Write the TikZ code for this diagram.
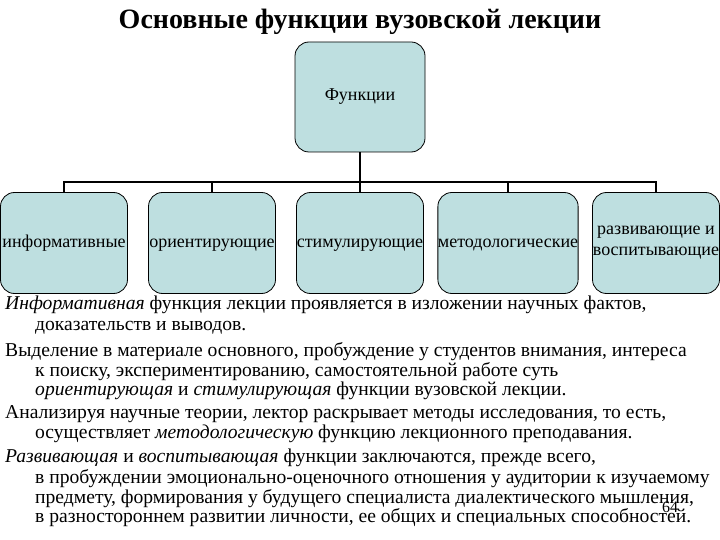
\documentclass[tikz,border=0pt]{standalone}
\usepackage{fontspec}
\setmainfont{Liberation Serif}
\begin{document}
\begin{tikzpicture}[x=1pt,y=-1pt,
 fbox/.style={draw,thick,fill=boxc,rounded corners=14pt,minimum width=127pt,minimum height=101pt,inner sep=0pt,font=\fontsize{18}{21}\selectfont,align=center},
 conn/.style={line width=2pt},
 ln/.style={anchor=base west,inner sep=0pt,font=\fontsize{19.6}{22}\selectfont}]
\definecolor{boxc}{HTML}{BEDFE0}
\useasboundingbox (0,0) rectangle (720,540);
\node[font=\bfseries\fontsize{28}{30}\selectfont] (t) at (360,22) {Основные функции вузовской лекции};
\node[fbox,minimum width=130pt,minimum height=110pt] (top) at (360,97) {Функции};
\node[fbox] (b1) at (64,243) {\strut информативные};
\node[fbox] (b2) at (212,243) {\strut ориентирующие};
\node[fbox] (b3) at (360,243) {\strut стимулирующие};
\node[fbox] (b4) at (508,243) {\strut методологические};
\node[fbox] (b5) at (656,243) {развивающие и\\воспитывающие};
\coordinate (h) at (360,182);
\draw[conn] (top.south) -- (h);
\draw[conn] (b1.north) |- (h) -| (b5.north);
\draw[conn] (b2.north) -- (b2.north |- h);
\draw[conn] (b3.north) -- (h);
\draw[conn] (b4.north) -- (b4.north |- h);
\node[ln] (l1) at (5,309) {\textit{Информативная} функция лекции проявляется в изложении научных фактов,};
\node[ln] (l2) at (35,330) {доказательств и выводов.};
\node[ln] (l3) at (5,356) {Выделение в материале основного, пробуждение у студентов внимания, интереса};
\node[ln] (l4) at (35,376) {к поиску, экспериментированию, самостоятельной работе суть};
\node[ln] (l5) at (35,395) {\textit{ориентирующая} и \textit{стимулирующая} функции вузовской лекции.};
\node[ln] (l6) at (5,418) {Анализируя научные теории, лектор раскрывает методы исследования, то есть,};
\node[ln] (l7) at (35,438) {осуществляет \textit{методологическую} функцию лекционного преподавания.};
\node[ln] (l8) at (5,462) {\textit{Развивающая} и \textit{воспитывающая} функции заключаются, прежде всего,};
\node[ln] (l9) at (35,483) {в пробуждении эмоционально-оценочного отношения у аудитории к изучаемому};
\node[ln] (l10) at (35,503) {предмету, формирования у будущего специалиста диалектического мышления,};
\node[ln] (l11) at (35,522) {в разностороннем развитии личности, ее общих и специальных способностей.};
\node[font=\fontsize{16}{16}\selectfont,inner sep=0pt] (pg) at (670,507) {64};
\end{tikzpicture}
\end{document}
